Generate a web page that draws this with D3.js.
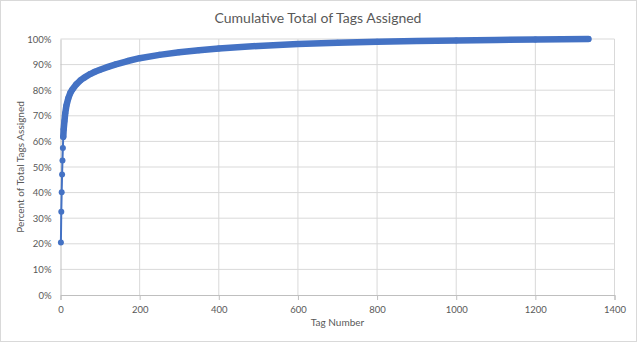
<!DOCTYPE html>
<html>
<head>
<meta charset="utf-8">
<script src="https://cdn.jsdelivr.net/npm/d3@7"></script>
<style>
  body { margin: 0; background: #fff; }
  text { font-family: Lato, "Open Sans", "Liberation Sans", sans-serif; fill: #595959; }
</style>
</head>
<body>
<svg class="chart"></svg>
<script>
// Tag number and cumulative percent of all tags
const tagNumbers = [1, 2, 3, 4, 5, 6, 7, 8, 10, 12, 15, 20, 25, 30, 40, 50, 60, 75, 87, 100,
    120, 140, 170, 200, 250, 300, 350, 400, 500, 600, 700, 800, 900, 1000, 1100, 1200, 1334];
const cumPercent = [20.5, 32.5, 40.1, 47.1, 52.5, 57.4, 61.8, 64.7, 68.0, 71.0, 74.0, 77.0, 79.0, 80.3, 82.3, 83.8, 84.9, 86.3, 87.2, 88.0,
    89.1, 90.1, 91.4, 92.5, 93.8, 94.8, 95.6, 96.3, 97.3, 98.0, 98.5, 98.9, 99.2, 99.45, 99.65, 99.8, 100];
const xTicks = [0, 200, 400, 600, 800, 1000, 1200, 1400];
const yTicks = [0, 10, 20, 30, 40, 50, 60, 70, 80, 90, 100];

const data = tagNumbers.map((t, i) => ({ tag: t, pct: cumPercent[i] }));

function makeChart(data) {
    const svgWidth = 637,
        svgHeight = 342;
    const margin = { top: 39, right: 22.5, bottom: 47, left: 60.5 };
    const width = svgWidth - margin.left - margin.right;
    const height = svgHeight - margin.top - margin.bottom;

    const canvas = d3.select(".chart")
        .attr("width", svgWidth)
        .attr("height", svgHeight);

    // outer border
    canvas.append("rect")
        .attr("x", 0.5).attr("y", 0.5)
        .attr("width", svgWidth - 1).attr("height", svgHeight - 1)
        .attr("fill", "#fff")
        .attr("stroke", "#d9d9d9");

    const plotArea = canvas.append("g")
        .attr("transform", `translate(${margin.left},${margin.top})`);

    // Scales
    const x = d3.scaleLinear().domain([0, 1400]).range([0, width]);
    const y = d3.scaleLinear().domain([0, 100]).range([height, 0]);

    // Gridlines
    plotArea.append("g")
        .selectAll("line.h")
        .data(yTicks.filter(d => d > 0))
        .enter().append("line")
        .attr("x1", 0).attr("x2", width)
        .attr("y1", d => y(d)).attr("y2", d => y(d))
        .attr("stroke", "#d9d9d9");

    plotArea.append("g")
        .selectAll("line.v")
        .data(xTicks.filter(d => d > 0))
        .enter().append("line")
        .attr("x1", d => x(d)).attr("x2", d => x(d))
        .attr("y1", 0).attr("y2", height)
        .attr("stroke", "#d9d9d9");

    // Axes
    const xAxis = plotArea.append("g")
        .attr("transform", `translate(0, ${height})`)
        .call(d3.axisBottom(x).tickValues(xTicks).tickSize(5).tickPadding(6)
            .tickFormat(d3.format("d")));
    xAxis.select(".domain").attr("stroke", "#bfbfbf");
    xAxis.selectAll(".tick line").attr("stroke", "#bfbfbf");
    xAxis.selectAll("text").style("font-size", "9.5px").attr("fill", "#595959");

    const yAxis = plotArea.append("g")
        .call(d3.axisLeft(y).tickValues(yTicks).tickSize(0).tickPadding(9)
            .tickFormat(d => d + "%"));
    yAxis.select(".domain").attr("stroke", "#bfbfbf");
    yAxis.selectAll("text").style("font-size", "9.5px").attr("fill", "#595959");

    // Title
    canvas.append("text")
        .attr("x", 318)
        .attr("y", 23)
        .attr("text-anchor", "middle")
        .style("font-size", "14px")
        .text("Cumulative Total of Tags Assigned");

    // Axis Labels
    canvas.append("text")
        .attr("x", margin.left + width / 2)
        .attr("y", 326)
        .attr("text-anchor", "middle")
        .style("font-size", "10px")
        .text("Tag Number");

    canvas.append("text")
        .attr("transform", "rotate(-90)")
        .attr("x", -(margin.top + height / 2))
        .attr("y", 24)
        .attr("text-anchor", "middle")
        .style("font-size", "10px")
        .text("Percent of Total Tags Assigned");

    const blue = "#4472c4";
    const line = d3.line()
        .x(d => x(d.tag))
        .y(d => y(d.pct));

    // thin connecting line
    plotArea.append("path")
        .datum(data)
        .attr("fill", "none")
        .attr("stroke", blue)
        .attr("stroke-width", 2)
        .attr("d", line);

    // dense run of overlapping markers shows as a thick band
    plotArea.append("path")
        .datum(data.filter(d => d.tag >= 7))
        .attr("fill", "none")
        .attr("stroke", blue)
        .attr("stroke-width", 6.5)
        .attr("stroke-linejoin", "round")
        .attr("stroke-linecap", "round")
        .attr("d", line);

    // Markers
    plotArea.selectAll("circle")
        .data(data)
        .enter().append("circle")
        .attr("r", 3)
        .attr("fill", blue)
        .attr("cx", d => x(d.tag))
        .attr("cy", d => y(d.pct));
}

makeChart(data);
</script>
</body>
</html>
